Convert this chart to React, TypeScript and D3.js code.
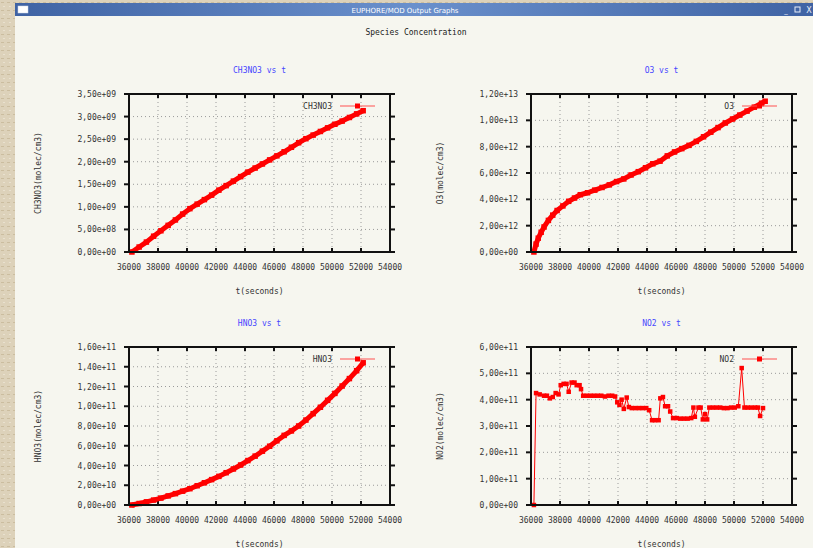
import React from "react";
import * as d3 from "d3";

// ---------- data ----------
const X_TICKS = [36000, 38000, 40000, 42000, 44000, 46000, 48000, 50000, 52000, 54000];

const T_SMOOTH = [36200, 36700, 37200, 37700, 38200, 38700, 39200, 39700, 40200, 40700, 41200, 41700, 42200, 42700, 43200, 43700, 44200, 44700, 45200, 45700, 46200, 46700, 47200, 47700, 48200, 48700, 49200, 49700, 50200, 50700, 51200, 51700, 52150];

const CH3NO3 = [0, 0.11e9, 0.22e9, 0.35e9, 0.47e9, 0.59e9, 0.71e9, 0.84e9, 0.96e9, 1.06e9, 1.16e9, 1.26e9, 1.37e9, 1.47e9, 1.57e9, 1.67e9, 1.77e9, 1.86e9, 1.95e9, 2.04e9, 2.13e9, 2.22e9, 2.32e9, 2.42e9, 2.51e9, 2.59e9, 2.67e9, 2.75e9, 2.83e9, 2.9e9, 2.98e9, 3.06e9, 3.13e9];

const HNO3 = [0, 0.15e10, 0.32e10, 0.5e10, 0.7e10, 0.92e10, 1.15e10, 1.4e10, 1.65e10, 1.95e10, 2.25e10, 2.57e10, 2.9e10, 3.27e10, 3.65e10, 4.05e10, 4.5e10, 4.95e10, 5.45e10, 5.95e10, 6.5e10, 7.05e10, 7.5e10, 8.0e10, 8.6e10, 9.25e10, 9.9e10, 10.6e10, 11.3e10, 12.05e10, 12.8e10, 13.6e10, 14.4e10];

const O3_T = [36200, 36350, 36500, 36700, 36900, 37200, 37500, 37800, 38200, 38600, 39000, 39400, 39900, 40400, 40900, 41400, 41900, 42400, 42900, 43400, 43900, 44400, 44900, 45400, 45900, 46400, 46900, 47400, 47900, 48400, 48900, 49400, 49900, 50400, 50900, 51400, 51900, 52150];
const O3 = [0, 0.6e12, 1.05e12, 1.5e12, 1.9e12, 2.4e12, 2.8e12, 3.15e12, 3.5e12, 3.85e12, 4.1e12, 4.35e12, 4.5e12, 4.7e12, 4.9e12, 5.1e12, 5.35e12, 5.55e12, 5.85e12, 6.1e12, 6.4e12, 6.7e12, 6.9e12, 7.3e12, 7.6e12, 7.85e12, 8.1e12, 8.4e12, 8.75e12, 9.1e12, 9.45e12, 9.8e12, 10.1e12, 10.4e12, 10.7e12, 11.0e12, 11.3e12, 11.45e12];

const NO2_T = [36200, 36350, 36600, 36900, 37100, 37300, 37500, 37700, 37900, 38050, 38250, 38450, 38600, 38800, 39000, 39150, 39350, 39450, 39600, 39850, 40100, 40350, 40600, 40850, 41100, 41350, 41600, 41800, 41950, 42100, 42250, 42400, 42600, 42750, 42950, 43200, 43450, 43700, 43950, 44150, 44350, 44550, 44800, 44920, 45100, 45250, 45450, 45600, 45800, 46050, 46300, 46550, 46800, 47050, 47200, 47300, 47550, 47700, 47850, 48000, 48150, 48300, 48550, 48800, 49050, 49300, 49550, 49800, 50050, 50300, 50530, 50720, 50950, 51200, 51450, 51650, 51800, 52000];
const NO2 = [0, 4.25e11, 4.2e11, 4.15e11, 4.15e11, 4.05e11, 4.1e11, 4.25e11, 4.2e11, 4.55e11, 4.6e11, 4.6e11, 4.3e11, 4.65e11, 4.65e11, 4.55e11, 4.55e11, 4.4e11, 4.15e11, 4.15e11, 4.15e11, 4.15e11, 4.15e11, 4.15e11, 4.12e11, 4.15e11, 4.15e11, 4.12e11, 3.9e11, 3.8e11, 4.0e11, 3.65e11, 4.08e11, 3.72e11, 3.68e11, 3.68e11, 3.68e11, 3.68e11, 3.68e11, 3.6e11, 3.22e11, 3.22e11, 3.22e11, 4.05e11, 4.1e11, 3.75e11, 3.75e11, 3.55e11, 3.3e11, 3.3e11, 3.28e11, 3.28e11, 3.28e11, 3.3e11, 3.7e11, 3.35e11, 3.7e11, 3.7e11, 3.25e11, 3.45e11, 3.25e11, 3.7e11, 3.7e11, 3.7e11, 3.7e11, 3.68e11, 3.68e11, 3.7e11, 3.7e11, 3.75e11, 5.2e11, 3.7e11, 3.7e11, 3.7e11, 3.7e11, 3.7e11, 3.38e11, 3.68e11];

const Y_TICKS_CH3NO3 = [0, 0.5e9, 1.0e9, 1.5e9, 2.0e9, 2.5e9, 3.0e9, 3.5e9];
const Y_TICKS_O3 = [0, 2e12, 4e12, 6e12, 8e12, 1.0e13, 1.2e13];
const Y_TICKS_HNO3 = [0, 2e10, 4e10, 6e10, 8e10, 1.0e11, 1.2e11, 1.4e11, 1.6e11];
const Y_TICKS_NO2 = [0, 1e11, 2e11, 3e11, 4e11, 5e11, 6e11];

// ---------- helpers ----------
const MONO = "'DejaVu Sans Mono', monospace";

function fmtSci(v: number): string {
  if (v === 0) return "0,00e+00";
  const e = Math.floor(Math.log10(v) + 1e-9);
  const m = v / Math.pow(10, e);
  return m.toFixed(2).replace(".", ",") + "e+" + String(e).padStart(2, "0");
}

type PanelProps = {
  title: string;
  ylabel: string;
  legend: string;
  xs: number[];
  ys: number[];
  yTicks: number[];
  rect: { x0: number; x1: number; y0: number; y1: number };
  thin?: boolean;
};

function Panel({ title, ylabel, legend, xs, ys, yTicks, rect, thin }: PanelProps) {
  const { x0, x1, y0, y1 } = rect;
  const x = d3.scaleLinear().domain([X_TICKS[0], X_TICKS[X_TICKS.length - 1]]).range([x0, x1]);
  const y = d3.scaleLinear().domain([yTicks[0], yTicks[yTicks.length - 1]]).range([y1, y0]);
  const pts = xs.map((t, i) => [t, ys[i]] as [number, number]);
  const line = d3.line<[number, number]>().x((d) => x(d[0])).y((d) => y(d[1]));
  const red = "#ff0000";
  const ms = thin ? 4.5 : 5.5;
  const cx = (x0 + x1) / 2;
  const cy = (y0 + y1) / 2;
  return (
    <g>
      <text x={cx} y={y0 - 21} textAnchor="middle" fontFamily={MONO} fontSize={8} fill="#4646ff">
        {title}
      </text>
      {/* grid */}
      {X_TICKS.slice(1, -1).map((t) => (
        <line key={"gx" + t} x1={x(t)} x2={x(t)} y1={y0} y2={y1} stroke="#9a9a9a" strokeWidth={1} strokeDasharray="1,3" />
      ))}
      {yTicks.slice(1, -1).map((v) => (
        <line key={"gy" + v} x1={x0} x2={x1} y1={y(v)} y2={y(v)} stroke="#9a9a9a" strokeWidth={1} strokeDasharray="1,3" />
      ))}
      {/* ticks */}
      {X_TICKS.map((t) => (
        <g key={"tx" + t}>
          <line x1={x(t)} x2={x(t)} y1={y1} y2={y1 - 4} stroke="#111" strokeWidth={2} />
          <line x1={x(t)} x2={x(t)} y1={y0} y2={y0 + 4} stroke="#111" strokeWidth={2} />
          <text x={x(t)} y={y1 + 18} textAnchor="middle" fontFamily={MONO} fontSize={8} fill="#333">
            {t}
          </text>
        </g>
      ))}
      {yTicks.map((v) => (
        <g key={"ty" + v}>
          <line x1={x0} x2={x0 - 5} y1={y(v)} y2={y(v)} stroke="#111" strokeWidth={2} />
          <line x1={x1} x2={x1 + 5} y1={y(v)} y2={y(v)} stroke="#111" strokeWidth={2} />
          <text x={x0 - 13} y={y(v) + 3} textAnchor="end" fontFamily={MONO} fontSize={8} fill="#333">
            {fmtSci(v)}
          </text>
        </g>
      ))}
      {/* data */}
      <path d={line(pts) || ""} fill="none" stroke={red} strokeWidth={thin ? 1 : 5} strokeLinejoin="round" />
      {pts.map((d, i) => (
        <rect key={"m" + i} x={x(d[0]) - ms / 2} y={y(d[1]) - ms / 2} width={ms} height={ms} fill={red} />
      ))}
      {/* border */}
      <rect x={x0} y={y0} width={x1 - x0} height={y1 - y0} fill="none" stroke="#111" strokeWidth={2} />
      {/* legend */}
      <text x={x1 - 58} y={y0 + 15} textAnchor="end" fontFamily={MONO} fontSize={8} fill="#333">
        {legend}
      </text>
      <line x1={x1 - 50} x2={x1 - 15} y1={y0 + 12} y2={y0 + 12} stroke="#ff5050" strokeWidth={1} />
      <rect x={x1 - 35} y={y0 + 9.5} width={5} height={5} fill={red} />
      {/* axis labels */}
      <text x={cx} y={y1 + 42} textAnchor="middle" fontFamily={MONO} fontSize={8} fill="#333">
        t(seconds)
      </text>
      <text
        transform={`translate(${x0 - 91},${cy}) rotate(-90)`}
        textAnchor="middle"
        dy={3}
        fontFamily={MONO}
        fontSize={8}
        fill="#333"
      >
        {ylabel}
      </text>
    </g>
  );
}

export default function App() {
  const W = 813;
  const H = 548;
  return (
    <div style={{ position: "fixed", left: 0, top: 0, width: W, height: H }}>
      <svg width={W} height={H} style={{ display: "block" }}>
        <defs>
          <linearGradient id="tb" x1="0" x2="1" y1="0" y2="0">
            <stop offset="0" stopColor="#3f63a4" />
            <stop offset="0.5" stopColor="#6a90cc" />
            <stop offset="1" stopColor="#3f63a4" />
          </linearGradient>
          <pattern id="stone" width="6" height="8" patternUnits="userSpaceOnUse">
            <rect width="6" height="8" fill="#ddd2ba" />
            <rect x="1" y="2" width="3" height="1" fill="#cbbd9f" />
            <rect x="3" y="6" width="2" height="1" fill="#e9e1cf" />
          </pattern>
        </defs>
        <rect x={0} y={0} width={W} height={H} fill="url(#stone)" />
        <rect x={15} y={3} width={W - 15} height={H - 3} fill="#f6f6ef" />
        <rect x={15} y={3} width={W - 15} height={13} fill="url(#tb)" />
        <rect x={18} y={6} width={10} height={7} fill="#ffffff" stroke="#cfd8e8" strokeWidth={0.5} />
        <text x={405} y={12.5} textAnchor="middle" fontFamily="'DejaVu Sans', sans-serif" fontSize={7} fill="#ffffff">
          EUPHORE/MOD Output Graphs
        </text>
        <text x={786} y={12.5} textAnchor="middle" fontFamily="'DejaVu Sans', sans-serif" fontSize={7} fill="#e8eef8">_</text>
        <rect x={795} y={7} width={5} height={5} fill="none" stroke="#e8eef8" strokeWidth={1} />
        <text x={809} y={12.5} textAnchor="middle" fontFamily="'DejaVu Sans', sans-serif" fontSize={8} fill="#e8eef8">X</text>
        <text x={416} y={35} textAnchor="middle" fontFamily={MONO} fontSize={8} fill="#222">
          Species Concentration
        </text>

        <Panel title="CH3NO3 vs t" ylabel="CH3NO3(molec/cm3)" legend="CH3NO3" xs={T_SMOOTH} ys={CH3NO3} yTicks={Y_TICKS_CH3NO3} rect={{ x0: 129, x1: 390, y0: 94, y1: 252 }} />
        <Panel title="O3 vs t" ylabel="O3(molec/cm3)" legend="O3" xs={O3_T} ys={O3} yTicks={Y_TICKS_O3} rect={{ x0: 531, x1: 792, y0: 94, y1: 252 }} />
        <Panel title="HNO3 vs t" ylabel="HNO3(molec/cm3)" legend="HNO3" xs={T_SMOOTH} ys={HNO3} yTicks={Y_TICKS_HNO3} rect={{ x0: 129, x1: 390, y0: 347, y1: 505 }} />
        <Panel title="NO2 vs t" ylabel="NO2(molec/cm3)" legend="NO2" xs={NO2_T} ys={NO2} yTicks={Y_TICKS_NO2} rect={{ x0: 531, x1: 792, y0: 347, y1: 505 }} thin />
      </svg>
    </div>
  );
}
